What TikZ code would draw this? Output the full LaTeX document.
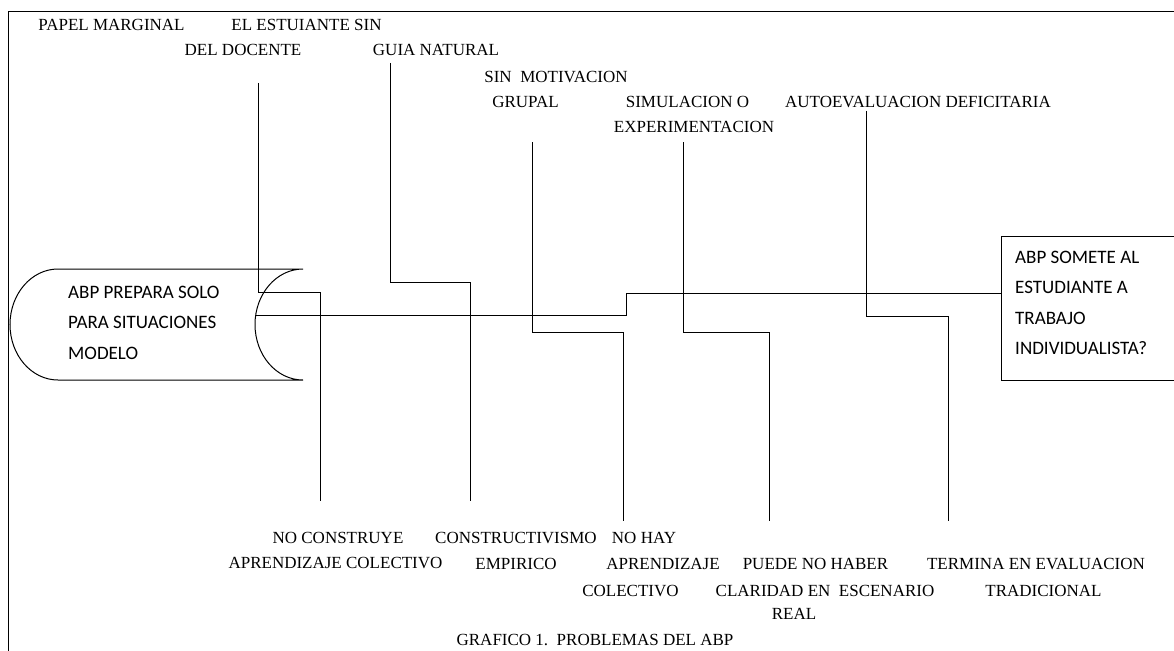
\documentclass[tikz,border=0pt]{standalone}
\usepackage{fontspec}
\setmainfont{Liberation Serif}
\newfontfamily\carlitofont{Carlito}
\begin{document}
\begin{tikzpicture}[x=1pt,y=-1pt,
  lbl/.style={inner sep=0pt, text height=11.3pt, text depth=0pt, font=\fontsize{17}{20}\selectfont},
  conn/.style={draw, line width=0.8pt},
  shapeline/.style={draw, line width=1pt},
  boxtext/.style={inner sep=0pt, align=left, anchor=north west, font=\carlitofont\fontsize{19}{30.3}\selectfont}
]
\useasboundingbox (0,0) rectangle (1174,650);
\clip (0,0) rectangle (1174,650);
% outer frame
\draw[line width=1.6pt] (8.5,11.5) rectangle (1200,680);

% left shape
\draw[shapeline] (303,269) -- (58,269)
  .. controls (31.5,269) and (10,293.9) .. (10,324.5)
  .. controls (10,355.2) and (31.5,380) .. (58,380) -- (303,380)
  .. controls (276.5,380) and (255,355.2) .. (255,324.5)
  .. controls (255,293.9) and (276.5,269) .. (303,269);
\node[boxtext] (left) at (68,286) {ABP PREPARA SOLO\\PARA SITUACIONES\\MODELO};
\coordinate (leftend) at (255.2,315.5);

% right box
\draw[shapeline] (1001,236) rectangle (1200,380);
\coordinate (boxw) at (1001,293);
\node[boxtext] (right) at (1015,251) {ABP SOMETE AL\\ESTUDIANTE A\\TRABAJO\\INDIVIDUALISTA?};

% top labels
\node[lbl] (t1a) at (111.5,25) {PAPEL MARGINAL};
\node[lbl] (t1b) at (243,50) {DEL DOCENTE};
\node[lbl] (t2a) at (306.5,25) {EL ESTUIANTE SIN};
\node[lbl] (t2b) at (436,50) {GUIA NATURAL};
\node[lbl] (t3a) at (556,77) {SIN\ \ MOTIVACION};
\node[lbl] (t3b) at (525.5,102) {GRUPAL};
\node[lbl] (t4a) at (687.5,102) {SIMULACION O};
\node[lbl] (t4b) at (694,127) {EXPERIMENTACION};
\node[lbl] (t5) at (918,102) {AUTOEVALUACION DEFICITARIA};

% bottom labels
\node[lbl] (b1a) at (338,538) {NO CONSTRUYE};
\node[lbl] (b1b) at (335.5,563) {APRENDIZAJE COLECTIVO};
\node[lbl] (b2a) at (516,538) {CONSTRUCTIVISMO};
\node[lbl] (b2b) at (516,564) {EMPIRICO};
\node[lbl] (b3a) at (644,538) {NO HAY};
\node[lbl] (b3b) at (663,564) {APRENDIZAJE};
\node[lbl] (b3c) at (630.5,591) {COLECTIVO};
\node[lbl] (b4a) at (815.5,564) {PUEDE NO HABER};
\node[lbl] (b4b) at (825,591) {CLARIDAD EN\ \ ESCENARIO};
\node[lbl] (b4c) at (794,614) {REAL};
\node[lbl] (b5a) at (1036,564) {TERMINA EN EVALUACION};
\node[lbl] (b5b) at (1043.5,591) {TRADICIONAL};
\node[lbl] (title) at (595,640) {GRAFICO 1.\ \ PROBLEMAS DEL ABP};

% connector end points
\coordinate (s1) at (258,83);   \coordinate (e1) at (320,501);
\coordinate (s2) at (390.5,63); \coordinate (e2) at (470,501);
\coordinate (s3) at (532,142);  \coordinate (e3) at (623,521);
\coordinate (s4) at (683.5,142);\coordinate (e4) at (769.5,521);
\coordinate (s5) at (866,111);  \coordinate (e5) at (948,521);

% spine
\draw[conn] (leftend) -- (626,315.5) -- (626,293) -- (boxw);

% fish-bone connectors
\draw[conn] (s1) -- (s1 |- 0,292) -- (e1 |- 0,292) -- (e1);
\draw[conn] (s2) -- (s2 |- 0,282) -- (e2 |- 0,282) -- (e2);
\draw[conn] (s3) -- (s3 |- 0,332) -- (e3 |- 0,332) -- (e3);
\draw[conn] (s4) -- (s4 |- 0,332) -- (e4 |- 0,332) -- (e4);
\draw[conn] (s5) -- (s5 |- 0,316) -- (e5 |- 0,316) -- (e5);
\end{tikzpicture}
\end{document}
